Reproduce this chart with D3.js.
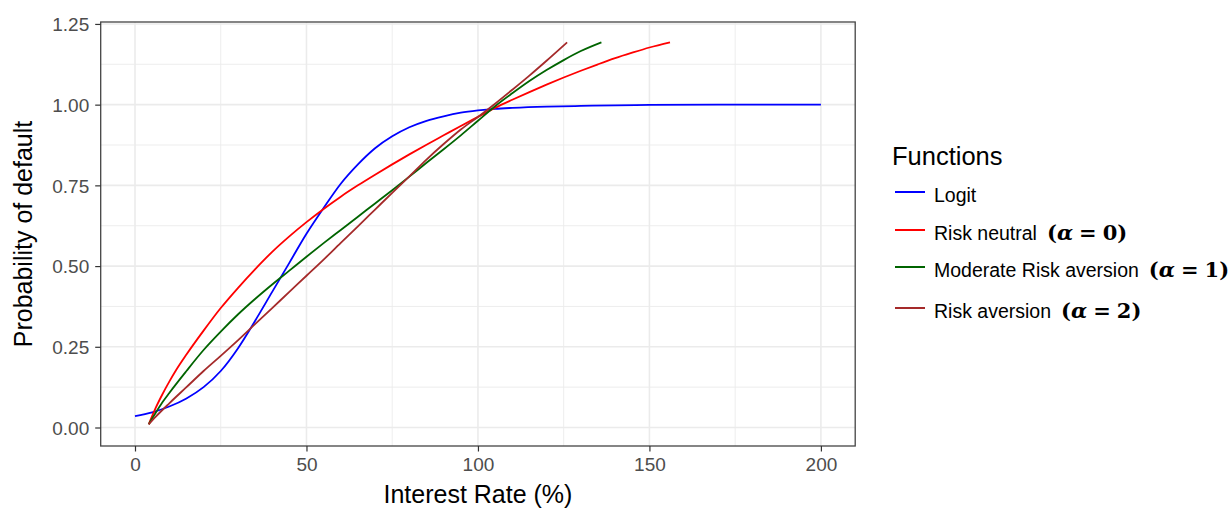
<!DOCTYPE html>
<html>
<head>
<meta charset="utf-8">
<script src="https://cdn.jsdelivr.net/npm/d3@7"></script>
<style>
  html, body { margin: 0; padding: 0; background: #ffffff; }
  svg { display: block; }
</style>
</head>
<body>
<svg id="chart" width="1230" height="509"></svg>
<script>
// ---- data ----
const seriesNames = ["Logit", "Risk neutral", "Moderate Risk aversion", "Risk aversion"];
const seriesMath = ["", "0", "1", "2"];
const seriesColors = ["#0000ff", "#ff0000", "#006400", "#a52a2a"];

const logitX = [0, 5, 10, 15, 20, 25, 30, 35, 40, 45, 50, 55, 60, 65, 70, 75, 80, 85, 90, 95, 100, 105, 110, 120, 130, 140, 150, 170, 200];
const logitY = [0.035, 0.047, 0.065, 0.09, 0.125, 0.175, 0.245, 0.33, 0.42, 0.51, 0.60, 0.68, 0.755, 0.815, 0.865, 0.902, 0.93, 0.95, 0.964, 0.975, 0.982, 0.987, 0.99, 0.994, 0.996, 0.998, 0.999, 1.0, 1.0];

const neutralX = [4, 6, 8, 10, 12, 15, 20, 25, 30, 35, 40, 45, 50, 55, 60, 65, 70, 75, 80, 85, 90, 95, 100, 105, 110, 115, 120, 125, 130, 135, 140, 145, 150, 156];
const neutralY = [0.01, 0.06, 0.103, 0.142, 0.178, 0.226, 0.300, 0.370, 0.432, 0.49, 0.544, 0.592, 0.636, 0.677, 0.715, 0.75, 0.783, 0.815, 0.846, 0.876, 0.905, 0.934, 0.962, 0.99, 1.015, 1.039, 1.062, 1.084, 1.105, 1.125, 1.144, 1.161, 1.177, 1.193];

const moderateX = [4, 6, 8, 10, 15, 20, 25, 30, 35, 40, 45, 50, 55, 60, 65, 70, 75, 80, 85, 90, 95, 100, 105, 110, 115, 120, 125, 130, 136];
const moderateY = [0.01, 0.045, 0.078, 0.107, 0.175, 0.24, 0.297, 0.35, 0.398, 0.443, 0.486, 0.529, 0.571, 0.612, 0.653, 0.694, 0.735, 0.777, 0.82, 0.862, 0.905, 0.95, 0.995, 1.035, 1.073, 1.107, 1.138, 1.166, 1.193];

const aversionX = [4, 6, 10, 15, 20, 25, 30, 35, 40, 45, 50, 55, 60, 65, 70, 75, 80, 85, 90, 95, 100, 105, 110, 115, 120, 126];
const aversionY = [0.01, 0.033, 0.075, 0.125, 0.175, 0.222, 0.27, 0.32, 0.37, 0.42, 0.47, 0.52, 0.572, 0.623, 0.675, 0.727, 0.778, 0.83, 0.878, 0.923, 0.962, 1.003, 1.046, 1.09, 1.136, 1.193];

const xTicks = [0, 50, 100, 150, 200];
const xMinor = [25, 75, 125, 175];
const yTicks = [0, 0.25, 0.5, 0.75, 1.0, 1.25];
const yMinor = [0.125, 0.375, 0.625, 0.875, 1.125];

const xTitle = "Interest Rate (%)";
const yTitle = "Probability of default";
const legendTitle = "Functions";

// ---- layout ----
const svg = d3.select("#chart");
const P = { left: 100.7, right: 855.2, top: 22, bottom: 446 };

const x = d3.scaleLinear().domain([-10, 210]).range([P.left, P.right]);
const y = d3.scaleLinear().domain([-0.0573, 1.256]).range([P.bottom, P.top]);

const FONT = "'Liberation Sans', Arial, Helvetica, sans-serif";

// grid
const grid = svg.append("g");
grid.selectAll(".xmin").data(xMinor).join("line")
  .attr("x1", d => x(d)).attr("x2", d => x(d)).attr("y1", P.top).attr("y2", P.bottom)
  .attr("stroke", "#ebebeb").attr("stroke-width", 0.9);
grid.selectAll(".ymin").data(yMinor).join("line")
  .attr("y1", d => y(d)).attr("y2", d => y(d)).attr("x1", P.left).attr("x2", P.right)
  .attr("stroke", "#ebebeb").attr("stroke-width", 0.9);
grid.selectAll(".xmaj").data(xTicks).join("line")
  .attr("x1", d => x(d)).attr("x2", d => x(d)).attr("y1", P.top).attr("y2", P.bottom)
  .attr("stroke", "#ebebeb").attr("stroke-width", 1.6);
grid.selectAll(".ymaj").data(yTicks).join("line")
  .attr("y1", d => y(d)).attr("y2", d => y(d)).attr("x1", P.left).attr("x2", P.right)
  .attr("stroke", "#ebebeb").attr("stroke-width", 1.6);

// lines
const seriesX = [logitX, neutralX, moderateX, aversionX];
const seriesY = [logitY, neutralY, moderateY, aversionY];
const line = d3.line().curve(d3.curveMonotoneX).x(d => x(d[0])).y(d => y(d[1]));
seriesNames.forEach((name, i) => {
  const pts = seriesX[i].map((v, j) => [v, seriesY[i][j]]);
  svg.append("path").datum(pts)
    .attr("d", line).attr("fill", "none")
    .attr("stroke", seriesColors[i]).attr("stroke-width", 1.8)
    .attr("stroke-linejoin", "round").attr("stroke-linecap", "butt");
});

// panel border
svg.append("rect").attr("x", P.left).attr("y", P.top)
  .attr("width", P.right - P.left).attr("height", P.bottom - P.top)
  .attr("fill", "none").attr("stroke", "#444444").attr("stroke-width", 1.3);

// axes
const xAxis = d3.axisBottom(x).tickValues(xTicks).tickFormat(d3.format("d")).tickSize(5.5).tickPadding(4);
const gx = svg.append("g").attr("transform", `translate(0,${P.bottom})`).call(xAxis);
const yAxis = d3.axisLeft(y).tickValues(yTicks).tickFormat(d3.format(".2f")).tickSize(5.5).tickPadding(6);
const gy = svg.append("g").attr("transform", `translate(${P.left},0)`).call(yAxis);
[gx, gy].forEach(g => {
  g.select(".domain").remove();
  g.selectAll(".tick line").attr("stroke", "#333333").attr("stroke-width", 1.2);
  g.selectAll(".tick text").attr("fill", "#4d4d4d").style("font-family", FONT).style("font-size", "19px");
});
gx.selectAll(".tick text").attr("dy", "0.71em").attr("y", 12);
gy.selectAll(".tick text").attr("dy", "0.36em");

// axis titles
svg.append("text").attr("x", (P.left + P.right) / 2).attr("y", 503)
  .attr("text-anchor", "middle").style("font-family", FONT).style("font-size", "25px")
  .attr("fill", "#000").text(xTitle);
svg.append("text").attr("transform", `translate(32,${(P.top + P.bottom) / 2}) rotate(-90)`)
  .attr("text-anchor", "middle").style("font-family", FONT).style("font-size", "25px")
  .attr("fill", "#000").text(yTitle);

// legend
const lg = svg.append("g");
lg.append("text").attr("x", 892).attr("y", 165).style("font-family", FONT).style("font-size", "25.5px")
  .attr("fill", "#000").text(legendTitle);
const keyY = [192, 230, 267, 308];
seriesNames.forEach((name, i) => {
  lg.append("line").attr("x1", 895).attr("x2", 925).attr("y1", keyY[i]).attr("y2", keyY[i])
    .attr("stroke", seriesColors[i]).attr("stroke-width", 2);
  const t = lg.append("text").attr("x", 934).attr("y", keyY[i] + 9.5)
    .style("font-family", FONT).style("font-size", "19.5px").attr("fill", "#000").text(name);
  if (seriesMath[i]) {
    const w = t.node().getComputedTextLength();
    const m = lg.append("text").attr("x", 934 + w + 10).attr("y", keyY[i] + 9.5)
      .style("font-family", "'DejaVu Serif', 'Liberation Serif', serif").style("font-size", "21px")
      .style("font-weight", "bold").attr("fill", "#000");
    m.append("tspan").text("(");
    m.append("tspan").style("font-style", "italic").text("\u03B1");
    m.append("tspan").attr("dx", 6).text("=");
    m.append("tspan").attr("dx", 6).text(seriesMath[i]);
    m.append("tspan").text(")");
  }
});
</script>
</body>
</html>
